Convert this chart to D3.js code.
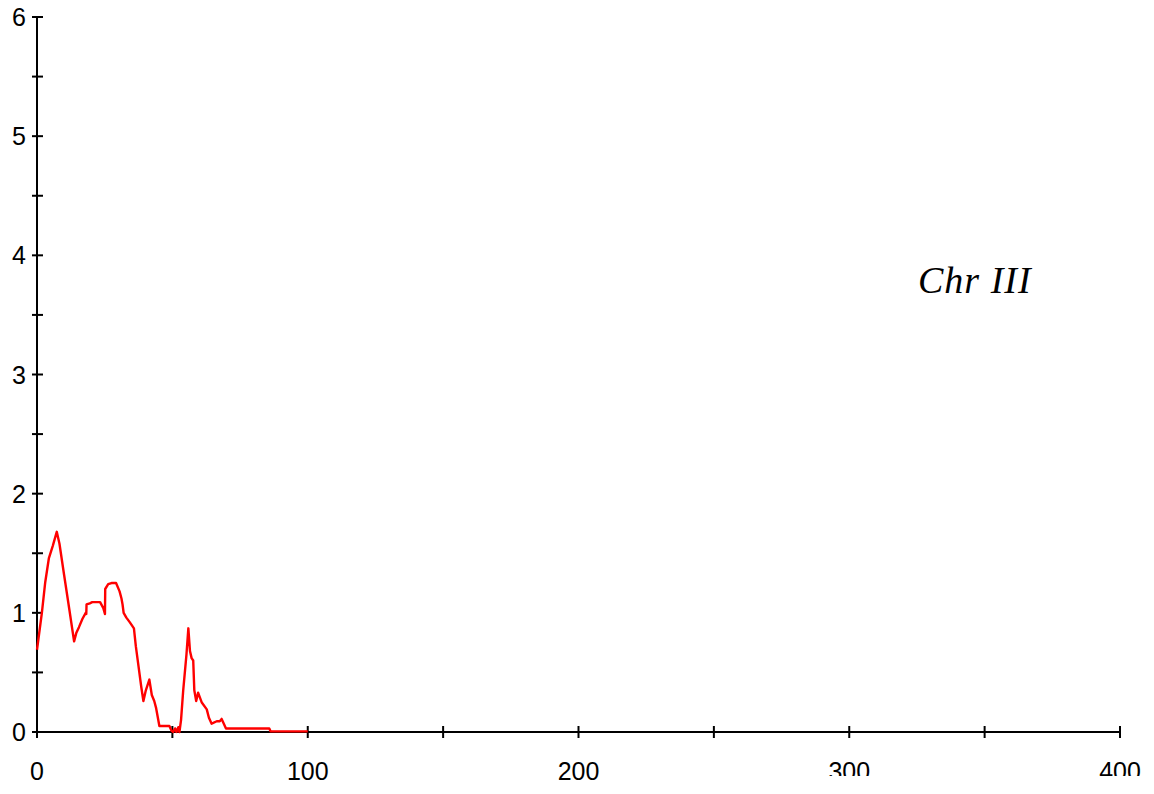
<!DOCTYPE html>
<html>
<head>
<meta charset="utf-8">
<script src="https://cdn.jsdelivr.net/npm/d3@7"></script>
<style>
  body { margin: 0; background: #fff; }
  svg { display: block; }
</style>
</head>
<body>
<script>
// position along chromosome (x) and signal (y)
const positions = [0, 1.8, 3, 4.4, 5.8, 7.3, 8.3, 10, 12, 13.7, 14.5, 15.5, 16.8, 18, 18.2, 18.3,
  19.5, 20.4, 22, 23.3, 24.5, 25.1, 25.2, 26.3, 27.5, 29.2, 30.5, 31.2, 31.6, 32, 33, 34.3, 35.8,
  36.5, 37.5, 38.5, 39.3, 40.2, 41.5, 42.4, 43.3, 44, 45.2, 47, 48.9, 49.7, 50.3, 51, 51.5, 52.2,
  52.6, 53.2, 54, 55.2, 55.9, 56.5, 57.1, 57.7, 58.1, 58.8, 59.5, 60.8, 62.7, 63.5, 64.5, 66.4,
  67.5, 68.2, 69.8, 75, 80, 85.8, 86.3, 100];
const values = [0.69, 1.0, 1.25, 1.46, 1.56, 1.68, 1.58, 1.32, 1.02, 0.76, 0.83, 0.88, 0.95, 1.0, 0.99, 1.07,
  1.08, 1.09, 1.09, 1.09, 1.04, 0.99, 1.2, 1.24, 1.25, 1.25, 1.18, 1.12, 1.07, 1.0, 0.96, 0.92, 0.87,
  0.72, 0.55, 0.38, 0.26, 0.35, 0.44, 0.31, 0.26, 0.2, 0.05, 0.05, 0.05, 0.01, 0.0, 0.03, 0.0, 0.04,
  0.0, 0.1, 0.35, 0.65, 0.87, 0.68, 0.62, 0.6, 0.35, 0.26, 0.33, 0.25, 0.19, 0.12, 0.07, 0.09,
  0.09, 0.11, 0.03, 0.03, 0.03, 0.03, 0.005, 0.005];

const xTicks = [0, 50, 100, 150, 200, 250, 300, 350, 400];
const xLabels = [0, 100, 200, 300, 400];
const yTicks = [0, 0.5, 1, 1.5, 2, 2.5, 3, 3.5, 4, 4.5, 5, 5.5, 6];
const yLabels = [0, 1, 2, 3, 4, 5, 6];
const title = "Chr III";

const W = 1154, H = 794;
const svg = d3.select("body").append("svg")
  .attr("width", W)
  .attr("height", H);

const x = d3.scaleLinear().domain([0, 400]).range([37, 1120]);
const y = d3.scaleLinear().domain([0, 6]).range([732, 17]);

// clip used for the labels that get cut off at the bottom
svg.append("clipPath").attr("id", "cut")
  .append("rect").attr("x", 0).attr("y", 0).attr("width", W).attr("height", 776);

// axis lines
svg.append("line")
  .attr("x1", x(0)).attr("x2", x(400))
  .attr("y1", y(0)).attr("y2", y(0))
  .attr("stroke", "#000").attr("stroke-width", 2);
svg.append("line")
  .attr("x1", x(0)).attr("x2", x(0))
  .attr("y1", y(0)).attr("y2", y(6))
  .attr("stroke", "#000").attr("stroke-width", 2);

// ticks
svg.selectAll(".xt").data(xTicks).enter().append("line")
  .attr("x1", d => x(d)).attr("x2", d => x(d))
  .attr("y1", y(0) - 6).attr("y2", y(0) + 6)
  .attr("stroke", "#000").attr("stroke-width", 2);
svg.selectAll(".yt").data(yTicks).enter().append("line")
  .attr("x1", x(0) - 5).attr("x2", x(0) + 6)
  .attr("y1", d => y(d)).attr("y2", d => y(d))
  .attr("stroke", "#000").attr("stroke-width", 2);

// labels
svg.selectAll(".xl").data(xLabels).enter().append("text")
  .attr("x", d => x(d)).attr("y", 780)
  .attr("text-anchor", "middle")
  .attr("font-family", "Liberation Sans, Arial, sans-serif")
  .attr("font-size", 25)
  .attr("clip-path", d => d >= 300 ? "url(#cut)" : null)
  .text(d => d);
svg.selectAll(".yl").data(yLabels).enter().append("text")
  .attr("x", 26).attr("y", d => y(d) + 9)
  .attr("text-anchor", "end")
  .attr("font-family", "Liberation Sans, Arial, sans-serif")
  .attr("font-size", 25)
  .text(d => d);

// signal line
const line = d3.line()
  .x((d, i) => x(positions[i]))
  .y(d => y(d));
svg.append("path")
  .datum(values)
  .attr("d", line)
  .attr("fill", "none")
  .attr("stroke", "#ff0000")
  .attr("stroke-width", 2.4)
  .attr("stroke-linejoin", "round");

svg.append("text")
  .attr("x", 918).attr("y", 293)
  .attr("font-family", "Liberation Serif, serif")
  .attr("font-style", "italic")
  .attr("font-size", 38)
  .attr("letter-spacing", 1)
  .text(title);
</script>
</body>
</html>
